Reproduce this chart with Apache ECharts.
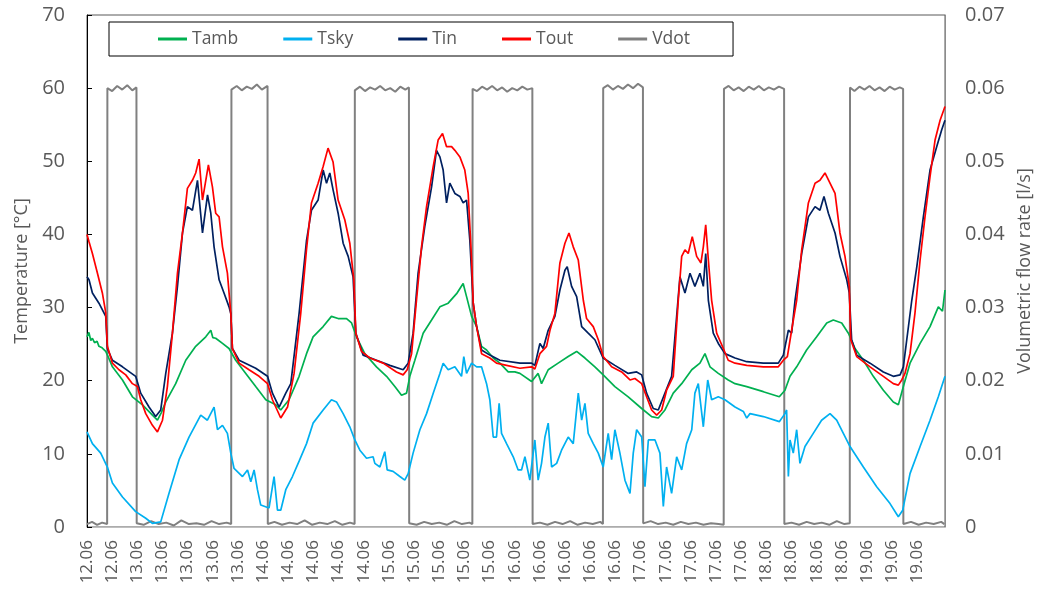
<!DOCTYPE html>
<html>
<head>
<meta charset="utf-8">
<script src="https://cdn.jsdelivr.net/npm/echarts@6.0.0/dist/echarts.min.js"></script>
<style>
html,body{margin:0;padding:0;background:#fff;}
#chart{width:1042px;height:592px;}
</style>
</head>
<body>
<div id="chart"></div>
<script>
// x values: time in days of June (e.g. 13.5 = 13.06 12:00)
const tickLabels = ["12.06","12.06","13.06","13.06","13.06","13.06","13.06","14.06","14.06","14.06","14.06","14.06",
  "15.06","15.06","15.06","15.06","15.06","16.06","16.06","16.06","16.06","16.06","17.06","17.06","17.06","17.06","17.06",
  "18.06","18.06","18.06","18.06","19.06","19.06","19.06"];

const tamb = [[12.600,26.0],[12.615,26.6],[12.630,25.5],[12.643,25.8],[12.660,25.2],[12.680,25.4],[12.695,24.7],[12.720,24.5],[12.749,24.0],
  [12.775,23.0],[12.802,21.9],[12.882,20.1],[12.961,17.8],[13.041,16.7],[13.120,15.3],[13.160,14.6],[13.190,15.6],[13.226,17.1],
  [13.305,19.6],[13.385,22.8],[13.464,24.7],[13.544,26.0],[13.584,26.9],[13.600,25.9],[13.623,25.8],[13.677,25.1],[13.729,24.4],
  [13.782,22.8],[13.862,21.0],[13.941,19.2],[14.021,17.4],[14.101,16.7],[14.140,16.0],[14.206,17.4],[14.286,20.6],[14.345,23.7],
  [14.397,26.0],[14.477,27.4],[14.543,28.8],[14.596,28.5],[14.663,28.5],[14.703,27.9],[14.742,26.0],[14.808,23.7],[14.901,21.9],
  [14.981,20.6],[15.047,19.2],[15.100,18.0],[15.140,18.3],[15.166,20.6],[15.206,22.8],[15.272,26.5],[15.339,28.3],[15.405,30.1],
  [15.471,30.6],[15.538,31.9],[15.590,33.3],[15.617,31.5],[15.657,28.8],[15.697,27.4],[15.736,24.7],[15.776,24.2],[15.829,23.1],
  [15.882,22.4],[15.948,21.2],[16.001,21.2],[16.041,21.0],[16.134,19.9],[16.186,21.0],[16.213,19.6],[16.266,21.5],[16.345,22.4],
  [16.425,23.3],[16.492,24.0],[16.558,23.1],[16.637,21.9],[16.703,20.8],[16.796,19.2],[16.902,17.8],[17.009,16.2],[17.088,15.1],
  [17.141,14.9],[17.194,16.0],[17.260,18.3],[17.327,19.6],[17.407,21.5],[17.472,22.4],[17.512,23.7],[17.552,21.9],[17.618,21.0],
  [17.697,20.1],[17.751,19.6],[17.844,19.2],[17.976,18.5],[18.103,17.8],[18.148,18.7],[18.188,20.6],[18.241,21.9],[18.320,24.2],
  [18.400,26.0],[18.480,27.9],[18.532,28.3],[18.599,27.9],[18.652,26.5],[18.705,24.4],[18.771,22.8],[18.850,20.6],[18.930,18.7],
  [19.009,17.1],[19.049,16.7],[19.089,19.2],[19.142,22.4],[19.222,25.1],[19.301,27.4],[19.367,30.1],[19.400,29.5],[19.420,32.4]];

const tsky = [[12.600,13.0],[12.643,11.4],[12.709,10.1],[12.762,8.2],[12.802,6.0],[12.882,4.1],[12.987,2.1],[13.067,1.2],[13.120,0.5],
  [13.186,0.7],[13.252,4.6],[13.332,9.2],[13.411,12.3],[13.504,15.3],[13.557,14.6],[13.610,16.4],[13.637,13.3],[13.677,13.9],
  [13.716,12.8],[13.743,10.1],[13.769,8.0],[13.836,6.9],[13.876,7.8],[13.902,6.2],[13.928,7.8],[13.955,5.1],[13.981,3.0],
  [14.047,2.6],[14.087,6.9],[14.114,2.3],[14.140,2.3],[14.180,5.1],[14.233,6.9],[14.286,9.0],[14.345,11.4],[14.397,14.2],
  [14.477,16.0],[14.543,17.4],[14.583,17.1],[14.636,15.5],[14.689,13.7],[14.729,11.9],[14.769,10.5],[14.822,9.4],[14.874,9.6],
  [14.888,8.7],[14.928,8.2],[14.967,10.3],[14.986,7.8],[15.033,7.6],[15.087,6.9],[15.126,6.4],[15.153,7.3],[15.192,10.1],
  [15.246,13.3],[15.299,15.5],[15.352,18.3],[15.405,21.0],[15.431,22.4],[15.471,21.5],[15.524,21.9],[15.577,20.6],[15.595,23.3],
  [15.617,21.0],[15.657,22.4],[15.697,21.9],[15.736,21.9],[15.776,19.6],[15.802,17.4],[15.829,12.3],[15.855,12.3],[15.876,16.9],
  [15.895,12.8],[15.935,11.4],[15.988,9.6],[16.027,7.8],[16.054,7.8],[16.081,9.6],[16.120,6.4],[16.160,11.9],[16.186,6.4],
  [16.213,8.7],[16.240,12.3],[16.266,14.2],[16.293,8.2],[16.333,8.7],[16.372,10.5],[16.425,12.3],[16.465,11.4],[16.505,18.3],
  [16.532,14.6],[16.558,16.9],[16.584,12.8],[16.624,11.4],[16.664,10.1],[16.703,8.2],[16.743,12.8],[16.770,9.2],[16.796,13.3],
  [16.836,10.1],[16.876,6.4],[16.916,4.6],[16.942,10.1],[16.969,13.3],[17.009,12.3],[17.035,5.5],[17.062,11.9],[17.115,11.9],
  [17.154,10.1],[17.181,2.8],[17.207,8.2],[17.247,4.6],[17.287,9.6],[17.327,7.8],[17.366,11.4],[17.407,13.3],[17.432,18.3],
  [17.459,19.6],[17.499,13.7],[17.534,20.1],[17.565,17.4],[17.618,17.8],[17.671,17.4],[17.751,16.4],[17.817,15.8],[17.844,14.9],
  [17.870,15.5],[17.976,15.1],[18.103,14.4],[18.148,15.5],[18.161,16.0],[18.175,6.9],[18.188,11.9],[18.214,10.1],[18.241,13.3],
  [18.267,8.7],[18.307,11.0],[18.373,12.8],[18.439,14.6],[18.506,15.5],[18.559,14.6],[18.612,12.8],[18.665,11.0],[18.771,8.2],
  [18.877,5.5],[18.983,3.2],[19.049,1.4],[19.084,2.3],[19.142,7.3],[19.222,11.0],[19.301,14.6],[19.367,17.8],[19.420,20.6]];

const tin = [[12.600,34.2],[12.616,33.8],[12.643,32.0],[12.695,30.6],[12.749,28.8],[12.762,24.4],[12.802,22.8],[12.882,21.9],
  [12.987,20.6],[13.027,18.3],[13.093,16.4],[13.146,15.1],[13.186,16.0],[13.226,21.0],[13.279,26.5],[13.319,32.9],[13.359,40.2],
  [13.398,43.8],[13.438,43.3],[13.478,47.4],[13.518,40.2],[13.558,45.4],[13.584,42.9],[13.610,38.3],[13.650,33.8],[13.689,32.0],
  [13.729,30.1],[13.743,29.2],[13.756,24.4],[13.809,22.8],[13.941,21.7],[14.035,20.6],[14.074,18.3],[14.127,16.4],[14.180,18.3],
  [14.220,19.6],[14.286,29.2],[14.345,39.2],[14.384,43.3],[14.437,44.7],[14.477,48.8],[14.504,47.0],[14.530,48.4],[14.556,46.1],
  [14.596,42.9],[14.636,38.8],[14.676,37.0],[14.715,34.2],[14.737,26.5],[14.795,23.5],[14.901,22.8],[15.007,22.1],[15.113,21.5],
  [15.153,22.4],[15.192,26.5],[15.232,34.7],[15.285,41.1],[15.339,46.5],[15.378,51.5],[15.405,50.6],[15.431,48.8],[15.458,44.3],
  [15.484,47.0],[15.524,45.6],[15.564,45.2],[15.590,44.3],[15.617,44.7],[15.643,39.2],[15.670,30.6],[15.697,27.4],[15.736,24.2],
  [15.802,23.5],[15.882,22.8],[16.041,22.4],[16.134,22.4],[16.160,22.1],[16.200,25.1],[16.226,24.4],[16.266,26.9],[16.319,28.8],
  [16.359,32.4],[16.399,35.1],[16.417,35.6],[16.452,32.9],[16.492,31.5],[16.532,27.4],[16.584,26.5],[16.637,25.6],[16.703,23.1],
  [16.796,22.1],[16.902,21.0],[16.969,21.2],[17.009,20.8],[17.048,18.3],[17.101,16.2],[17.141,16.0],[17.194,18.3],[17.247,20.6],
  [17.287,28.8],[17.313,34.2],[17.353,32.0],[17.393,34.7],[17.432,32.9],[17.472,34.7],[17.499,32.9],[17.518,37.4],[17.539,31.0],
  [17.578,26.5],[17.618,25.1],[17.671,23.7],[17.751,23.1],[17.844,22.6],[17.976,22.4],[18.095,22.4],[18.135,23.5],[18.175,26.9],
  [18.201,26.5],[18.228,31.0],[18.281,37.4],[18.334,42.4],[18.387,43.8],[18.426,43.3],[18.458,45.2],[18.493,42.9],[18.546,40.2],
  [18.585,37.0],[18.639,33.8],[18.659,32.0],[18.678,25.6],[18.718,23.5],[18.824,22.4],[18.930,21.2],[19.009,20.6],[19.063,20.8],
  [19.089,21.9],[19.116,25.6],[19.156,31.0],[19.196,35.6],[19.248,42.4],[19.301,48.8],[19.354,52.0],[19.394,54.3],[19.420,55.6]];

const tout = [[12.600,40.0],[12.616,39.0],[12.643,37.4],[12.683,34.7],[12.722,32.0],[12.749,29.3],[12.762,24.7],[12.802,22.4],
  [12.854,21.5],[12.908,20.8],[12.961,19.6],[13.001,19.2],[13.027,17.4],[13.067,15.5],[13.120,13.9],[13.160,13.0],[13.200,14.6],
  [13.239,19.2],[13.279,26.5],[13.319,34.7],[13.359,40.2],[13.398,46.3],[13.438,47.4],[13.464,48.4],[13.491,50.3],[13.518,44.7],
  [13.565,49.5],[13.597,46.5],[13.623,42.9],[13.650,42.4],[13.677,38.3],[13.716,34.7],[13.743,29.2],[13.756,24.4],[13.809,22.4],
  [13.888,21.5],[13.968,20.6],[14.035,19.6],[14.074,17.4],[14.140,14.9],[14.194,16.4],[14.246,21.0],[14.299,29.2],[14.345,38.0],
  [14.384,44.3],[14.437,47.0],[14.477,49.3],[14.516,51.8],[14.556,49.9],[14.596,44.7],[14.649,42.0],[14.689,38.8],[14.721,33.8],
  [14.737,26.5],[14.782,24.0],[14.848,23.1],[14.954,22.4],[15.060,21.2],[15.113,20.8],[15.145,21.5],[15.180,23.7],[15.219,31.0],
  [15.259,38.3],[15.299,43.8],[15.352,49.3],[15.391,52.9],[15.426,53.8],[15.458,52.0],[15.498,52.0],[15.524,51.5],[15.564,50.6],
  [15.603,48.8],[15.630,45.6],[15.657,36.5],[15.670,30.6],[15.697,27.4],[15.736,23.7],[15.802,23.1],[15.855,22.4],[15.935,22.1],
  [16.041,21.7],[16.134,21.9],[16.160,21.6],[16.200,23.7],[16.253,24.7],[16.280,26.9],[16.319,29.2],[16.359,36.1],[16.399,38.8],
  [16.431,40.2],[16.465,38.3],[16.505,36.5],[16.545,31.0],[16.571,28.5],[16.624,27.4],[16.664,25.6],[16.703,23.3],[16.770,21.9],
  [16.850,21.2],[16.916,20.1],[16.955,20.3],[17.009,19.6],[17.048,17.8],[17.088,16.0],[17.128,15.3],[17.168,16.0],[17.207,18.7],
  [17.260,20.6],[17.300,31.0],[17.327,37.0],[17.353,37.9],[17.379,37.4],[17.411,39.7],[17.446,37.0],[17.480,36.1],[17.499,38.3],
  [17.518,41.3],[17.539,36.5],[17.565,31.0],[17.605,26.5],[17.658,24.4],[17.697,22.8],[17.751,22.4],[17.844,22.1],[17.976,21.9],
  [18.095,21.9],[18.135,22.8],[18.167,23.3],[18.201,26.9],[18.241,31.0],[18.281,37.9],[18.334,44.3],[18.387,47.0],[18.426,47.4],
  [18.466,48.4],[18.506,47.0],[18.546,45.6],[18.585,40.2],[18.625,37.0],[18.659,32.9],[18.671,25.6],[18.718,23.3],[18.824,21.9],
  [18.930,20.6],[19.009,19.6],[19.049,19.4],[19.076,20.1],[19.102,21.0],[19.142,23.7],[19.181,29.2],[19.222,36.5],[19.261,42.4],
  [19.301,47.9],[19.341,52.9],[19.381,55.6],[19.420,57.5]];

const vdot = [[12.600,0.0004],[12.640,0.0007],[12.680,0.0003],[12.720,0.0006],[12.760,0.0004],
  [12.762,0.0600],[12.800,0.0596],[12.840,0.0603],[12.880,0.0598],[12.920,0.0604],[12.960,0.0597],[12.993,0.0601],
  [12.995,0.0005],[13.050,0.0003],[13.110,0.0008],[13.170,0.0004],[13.230,0.0006],[13.290,0.0002],[13.350,0.0009],[13.410,0.0004],
  [13.470,0.0005],[13.530,0.0003],[13.590,0.0008],[13.650,0.0004],[13.710,0.0006],[13.746,0.0004],
  [13.748,0.0598],[13.790,0.0603],[13.830,0.0597],[13.870,0.0602],[13.910,0.0599],[13.950,0.0605],[13.990,0.0598],[14.035,0.0603],
  [14.037,0.0004],[14.090,0.0007],[14.150,0.0003],[14.210,0.0006],[14.270,0.0004],[14.330,0.0009],[14.390,0.0003],[14.450,0.0006],
  [14.510,0.0004],[14.570,0.0008],[14.630,0.0003],[14.690,0.0006],[14.727,0.0004],
  [14.729,0.0597],[14.770,0.0602],[14.810,0.0596],[14.850,0.0601],[14.890,0.0598],[14.930,0.0603],[14.970,0.0597],[15.010,0.0600],
  [15.050,0.0595],[15.090,0.0602],[15.130,0.0598],[15.159,0.0601],
  [15.161,0.0005],[15.220,0.0003],[15.280,0.0007],[15.340,0.0004],[15.400,0.0006],[15.460,0.0003],[15.520,0.0008],[15.580,0.0004],
  [15.640,0.0006],[15.663,0.0004],
  [15.665,0.0599],[15.700,0.0596],[15.740,0.0602],[15.780,0.0598],[15.820,0.0603],[15.860,0.0597],[15.900,0.0601],[15.940,0.0595],
  [15.980,0.0600],[16.020,0.0597],[16.060,0.0602],[16.100,0.0598],[16.140,0.0600],
  [16.142,0.0004],[16.200,0.0006],[16.260,0.0003],[16.320,0.0007],[16.380,0.0004],[16.440,0.0008],[16.500,0.0003],[16.560,0.0006],
  [16.620,0.0004],[16.680,0.0007],[16.701,0.0004],
  [16.703,0.0600],[16.740,0.0604],[16.780,0.0598],[16.820,0.0603],[16.860,0.0599],[16.900,0.0605],[16.940,0.0600],[16.980,0.0606],
  [17.019,0.0601],
  [17.021,0.0005],[17.080,0.0008],[17.140,0.0004],[17.200,0.0006],[17.260,0.0003],[17.320,0.0007],[17.380,0.0004],[17.440,0.0006],
  [17.500,0.0003],[17.560,0.0005],[17.620,0.0004],[17.661,0.0003],
  [17.663,0.0599],[17.700,0.0603],[17.740,0.0597],[17.780,0.0601],[17.820,0.0596],[17.860,0.0602],[17.900,0.0598],[17.940,0.0603],
  [17.980,0.0597],[18.020,0.0601],[18.060,0.0598],[18.100,0.0602],[18.141,0.0599],
  [18.143,0.0004],[18.200,0.0006],[18.260,0.0003],[18.320,0.0007],[18.380,0.0004],[18.440,0.0006],[18.500,0.0003],[18.560,0.0008],
  [18.620,0.0004],[18.663,0.0005],
  [18.665,0.0601],[18.700,0.0596],[18.740,0.0602],[18.780,0.0598],[18.820,0.0603],[18.860,0.0597],[18.900,0.0601],[18.940,0.0596],
  [18.980,0.0602],[19.020,0.0598],[19.060,0.0601],[19.087,0.0599],
  [19.089,0.0004],[19.150,0.0007],[19.210,0.0003],[19.270,0.0006],[19.330,0.0004],[19.390,0.0007],[19.415,0.0004]];

const FONT = '"Open Sans", "Liberation Sans", sans-serif';
const TXT = '#595959';

const chart = echarts.init(document.getElementById('chart'), null, {renderer: 'canvas'});

function lineSeries(name, data, color, yIdx, width) {
  return {
    name: name, type: 'line', data: data, yAxisIndex: yIdx,
    showSymbol: false, symbol: 'none', smooth: false,
    lineStyle: {color: color, width: width},
    itemStyle: {color: color},
    emphasis: {disabled: true},
    animation: false
  };
}

chart.setOption({
  animation: false,
  textStyle: {fontFamily: FONT},
  grid: {left: 87, right: 97, top: 15, bottom: 65, show: true, borderColor: '#595959', borderWidth: 1, containLabel: false},
  legend: {
    data: ['Tamb', 'Tsky', 'Tin', 'Tout', 'Vdot'],
    left: 109, top: 22,
    padding: [8, 43, 8, 49],
    itemGap: 45, itemWidth: 29, itemHeight: 3,
    icon: 'rect',
    borderColor: '#000', borderWidth: 1,
    textStyle: {fontSize: 17.5, color: TXT, fontFamily: FONT}
  },
  xAxis: {
    type: 'value', min: 12.6, max: 19.42, interval: 0.2,
    axisLine: {show: true, lineStyle: {color: '#bfbfbf'}},
    axisTick: {show: false},
    splitLine: {show: false},
    axisLabel: {
      rotate: 90, fontSize: 17, color: TXT, margin: 13, fontFamily: FONT,
      showMinLabel: true, showMaxLabel: true,
      formatter: function (v) {
        const k = Math.round((v - 12.6) / 0.2);
        if (k < 0 || k >= tickLabels.length) return '';
        if (Math.abs(v - (12.6 + 0.2 * k)) > 1e-6) return '';
        return tickLabels[k];
      }
    }
  },
  yAxis: [{
    type: 'value', min: 0, max: 70, interval: 10, position: 'left',
    name: 'Temperature [°C]', nameLocation: 'middle', nameGap: 52, nameRotate: 90,
    nameTextStyle: {fontSize: 18, color: TXT, fontFamily: FONT},
    axisLine: {show: true, lineStyle: {color: '#000'}},
    axisTick: {show: true, inside: true, length: 5, lineStyle: {color: '#000'}},
    splitLine: {show: false},
    axisLabel: {fontSize: 20, color: TXT, margin: 22, fontFamily: FONT}
  }, {
    type: 'value', min: 0, max: 0.07, interval: 0.01, position: 'right',
    name: 'Volumetric flow rate [l/s]', nameLocation: 'middle', nameGap: 70, nameRotate: 90,
    nameTextStyle: {fontSize: 18, color: TXT, fontFamily: FONT},
    axisLine: {show: true, lineStyle: {color: '#8c8c8c'}},
    axisTick: {show: false},
    splitLine: {show: false},
    axisLabel: {fontSize: 20, color: TXT, margin: 20, fontFamily: FONT,
      formatter: function (v) { return v === 0 ? '0' : v.toFixed(2); }}
  }],
  series: [
    lineSeries('Vdot', vdot, '#808080', 1, 2),
    lineSeries('Tamb', tamb, '#00B050', 0, 1.7),
    lineSeries('Tsky', tsky, '#00B0F0', 0, 1.7),
    lineSeries('Tin', tin, '#002060', 0, 1.7),
    lineSeries('Tout', tout, '#FF0000', 0, 1.7)
  ]
});
</script>
</body>
</html>
